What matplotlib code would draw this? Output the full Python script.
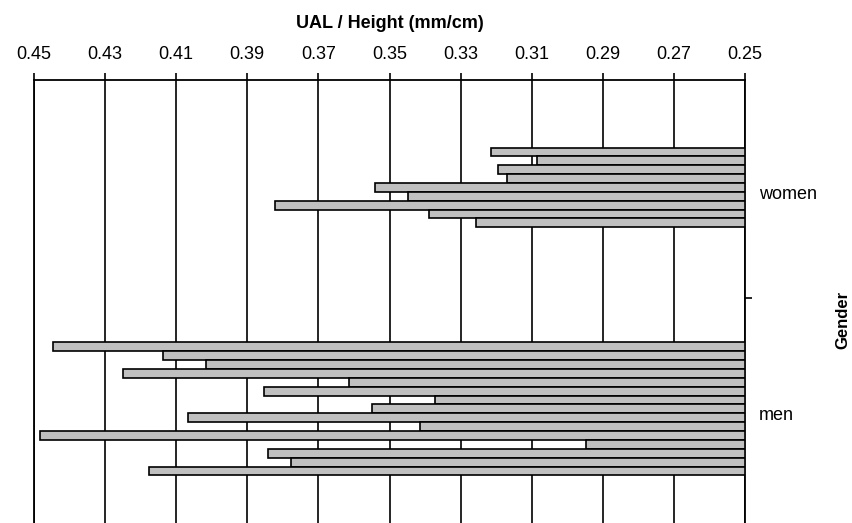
import numpy as np
import matplotlib.pyplot as plt
from matplotlib.transforms import ScaledTranslation

plt.rcParams['font.family'] = ['Liberation Sans', 'DejaVu Sans']

# UAL / height ratio for each subject, top to bottom within each group
women = [0.3215, 0.3086, 0.3195, 0.3169, 0.3540, 0.3449, 0.3823, 0.3390, 0.3256]
men = [0.4447, 0.4138, 0.4016, 0.4249, 0.3613, 0.3854, 0.3371, 0.3549,
       0.4067, 0.3413, 0.4482, 0.2946, 0.3841, 0.3778, 0.4176]
groups = ['women', 'men']
xticks = [0.45, 0.43, 0.41, 0.39, 0.37, 0.35, 0.33, 0.31, 0.29, 0.27, 0.25]
base = 0.25

fig = plt.figure(figsize=(8.53, 5.23), dpi=100)
ax = fig.add_axes([34/853, 0, 711/853, 443/523])

step = 0.04
for k, vals in enumerate([women, men]):
    vals = np.array(vals)
    n = len(vals)
    y = k + (np.arange(n) - (n - 1) / 2) * step
    ax.barh(y, vals - base, left=base, height=step, color='#c0c0c0',
            edgecolor='black', linewidth=1.2, zorder=3)

ax.set_xlim(0.45, 0.25)
ax.set_ylim(1.515, -0.485)
ax.xaxis.tick_top()
ax.xaxis.set_label_position('top')
ax.set_xticks(xticks)
ax.set_xticklabels([f'{t:.2f}' for t in xticks], fontsize=13)
ax.tick_params(axis='x', direction='out', length=5, width=1.2, pad=7)
ax.grid(axis='x', color='black', linewidth=1.2, zorder=0)
ax.set_xlabel('UAL / Height (mm/cm)', fontsize=13, fontweight='bold', labelpad=13)

ax.yaxis.tick_right()
ax.set_yticks([0, 1])
ax.set_yticklabels(groups, fontsize=13)
ax.set_yticks([0.5], minor=True)
ax.tick_params(axis='y', which='major', length=0, pad=10)
ax.tick_params(axis='y', which='minor', length=5, width=1.2, direction='out')
shift = ScaledTranslation(0, -5/100, fig.dpi_scale_trans)
for lbl in ax.get_yticklabels():
    lbl.set_transform(lbl.get_transform() + shift)

ax.spines['bottom'].set_visible(False)
for s in ['top', 'right', 'left']:
    ax.spines[s].set_linewidth(1.3)

fig.text(843/853, 1 - 320/523, 'Gender', rotation=90, fontsize=12,
         fontweight='bold', ha='center', va='center')

fig.savefig('out.png', dpi=100)
